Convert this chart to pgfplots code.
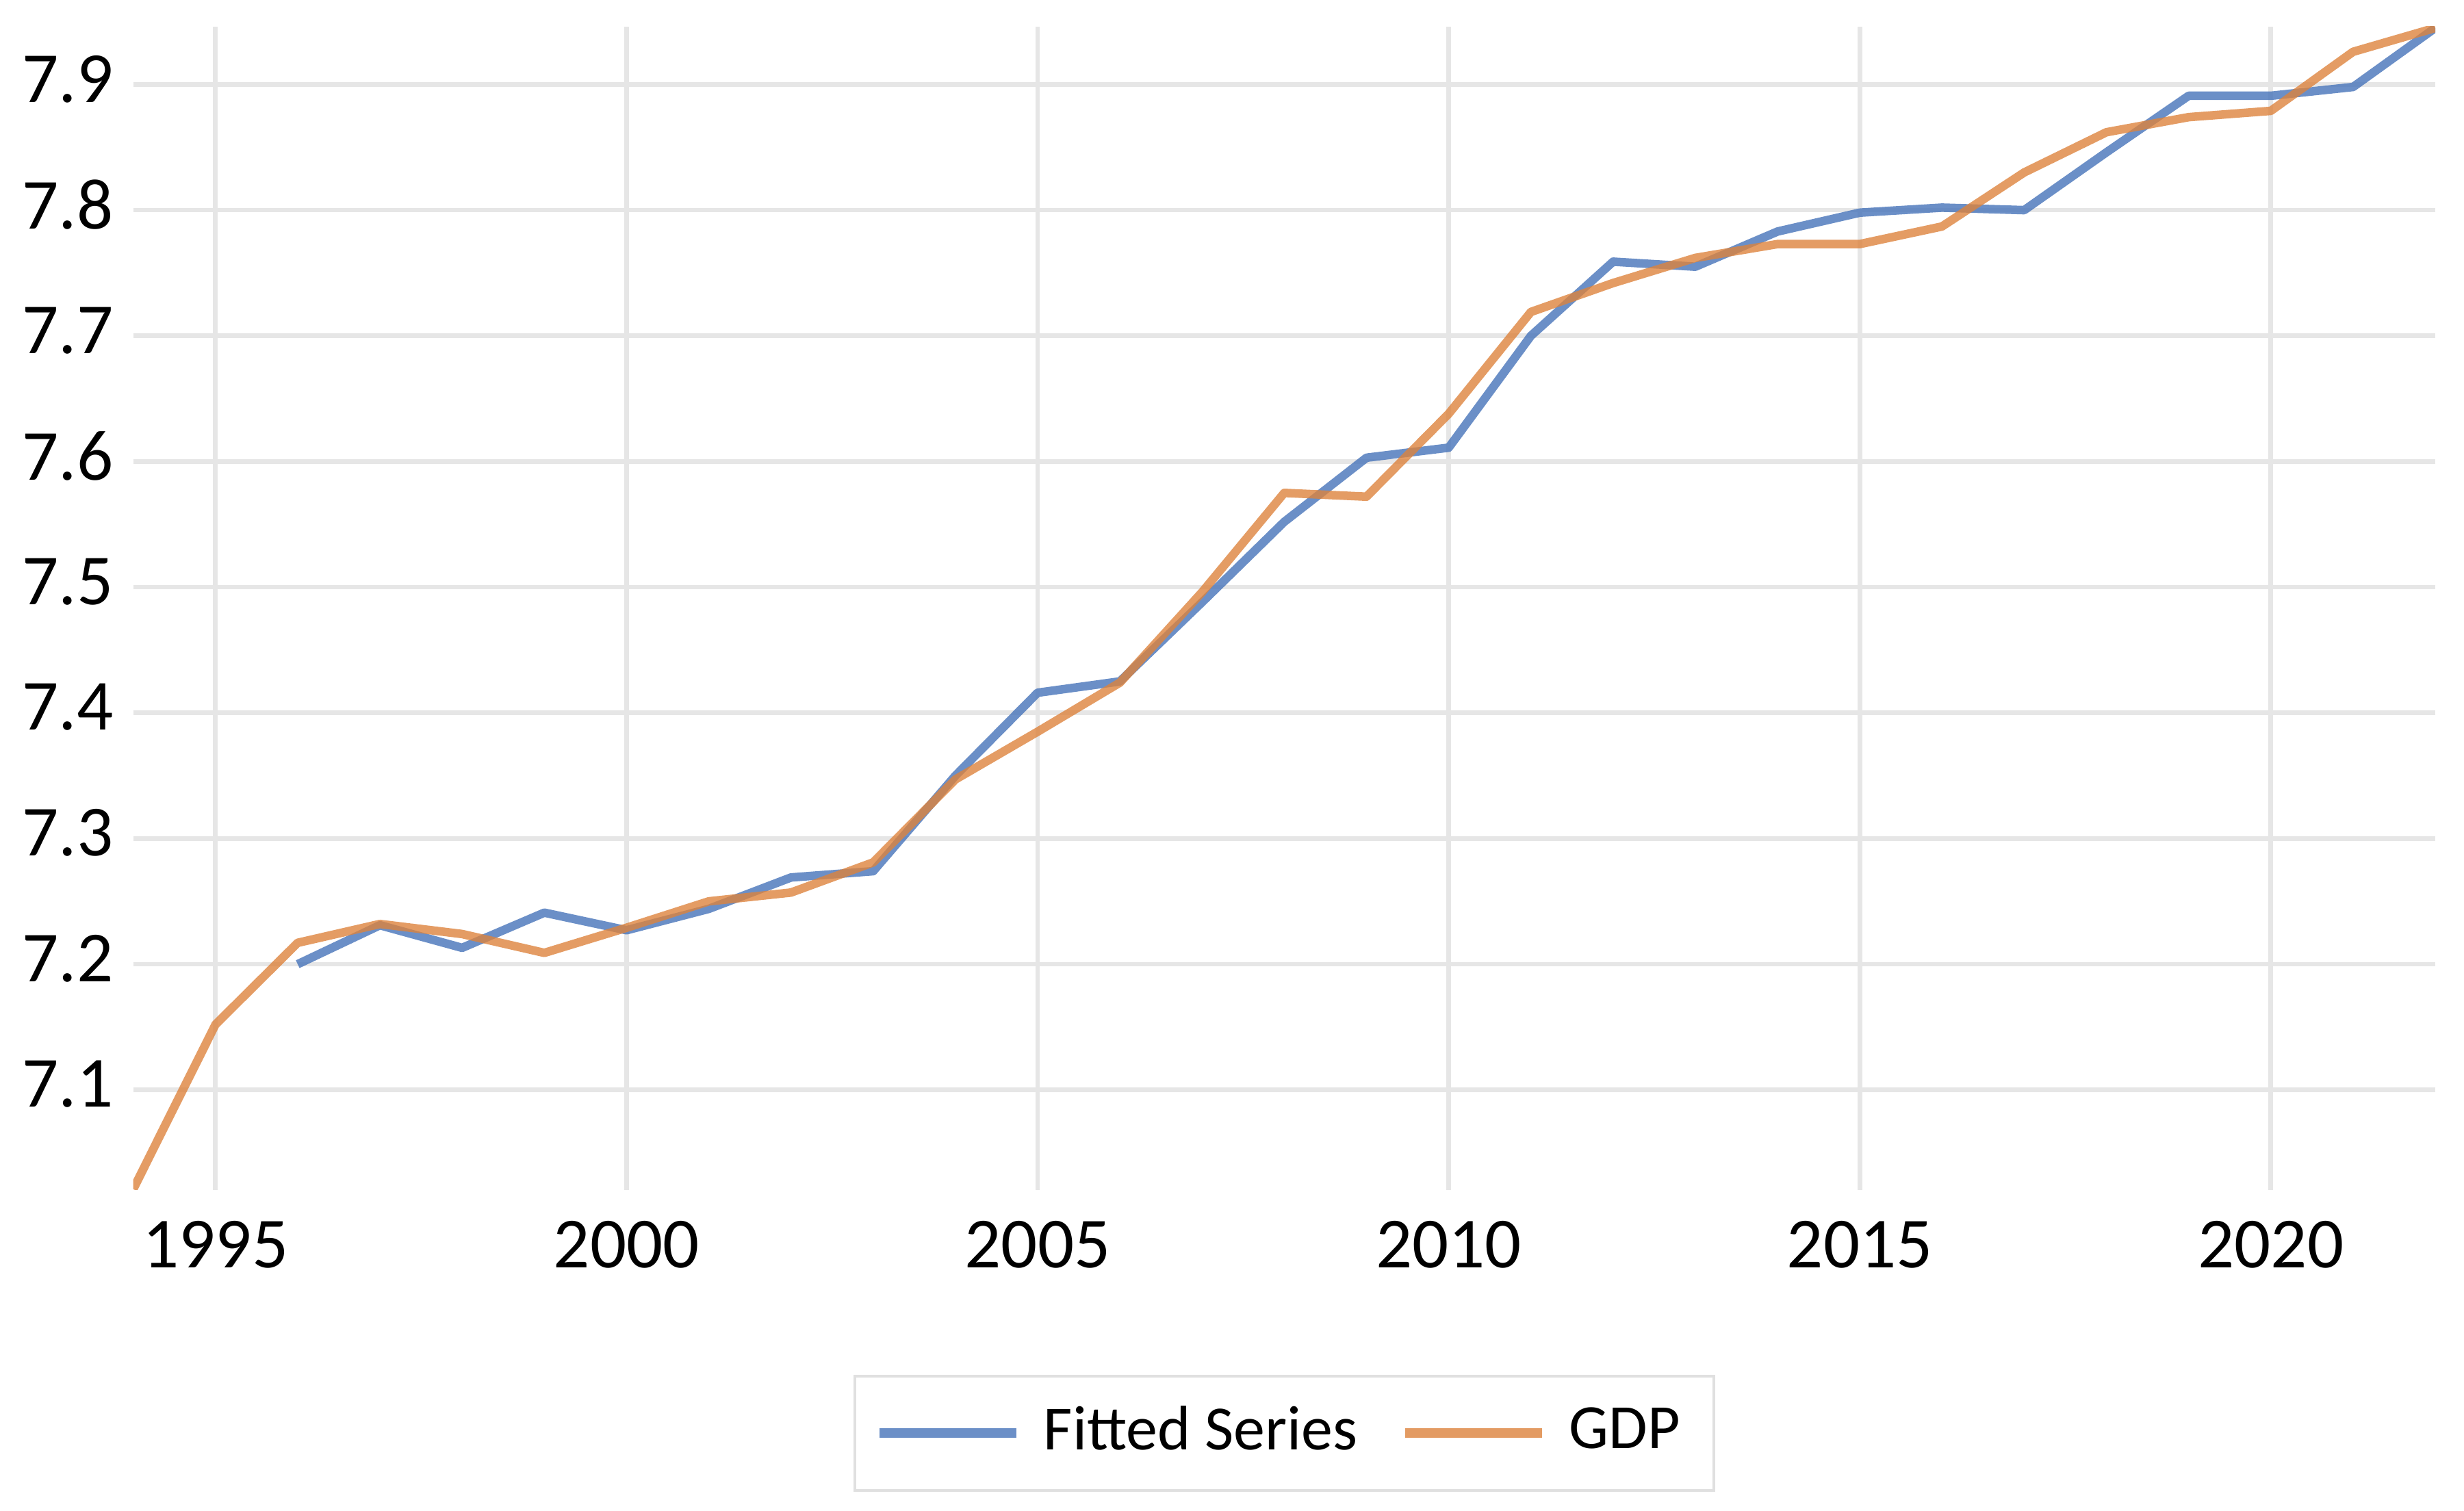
\documentclass[border=0pt]{standalone}
\usepackage{pgfplots}
\pgfplotsset{compat=1.18}
\usepackage{fontspec}
\setmainfont{Carlito}

\definecolor{fitblue}{RGB}{70,115,185}
\definecolor{gdporange}{RGB}{221,131,61}
\definecolor{gridgray}{RGB}{230,230,230}
\definecolor{legendgray}{RGB}{224,224,224}

\begin{document}
\begin{tikzpicture}
\begin{axis}[
    name=ax,
    scale only axis,
    width=336.33pt, height=169.96pt,
    xmin=1994, xmax=2022,
    ymin=7.0205, ymax=7.946,
    xtick={1995,2000,...,2020},
    ytick={7.1,7.2,...,7.95},
    grid=major,
    major grid style={draw=gridgray, line width=0.67pt},
    axis line style={draw=none},
    major tick length=0pt,
    /pgf/number format/assume math mode=true,
    ticklabel style={font=\fontsize{10.5}{12}\selectfont},
    xticklabel style={/pgf/number format/set thousands separator={}, yshift=-1pt},
    yticklabel style={/pgf/number format/fixed, /pgf/number format/fixed zerofill,
        /pgf/number format/precision=1, xshift=0.6pt, yshift=0.8pt},
    legend columns=2,
    legend style={
        at={(0.5,-0.1589)}, anchor=north,
        draw=legendgray, line width=0.4pt,
        inner xsep=2.9pt, inner ysep=2.4pt,
        font=\fontsize{9.2}{11}\selectfont,
        /tikz/every odd column/.append style={column sep=1.3pt},
        /tikz/every even column/.append style={column sep=4.2pt},
    },
    legend image code/.code={
        \draw[#1, line width=1.4pt] (0pt,0pt) -- (20pt,0pt);
    },
]
% fitted series
\addplot[color=fitblue, line width=1.25pt, opacity=0.8, line join=round] coordinates {
    (1996,7.200) (1997,7.231) (1998,7.213) (1999,7.241) (2000,7.227)
    (2001,7.244) (2002,7.269) (2003,7.274) (2004,7.350) (2005,7.416)
    (2006,7.425) (2007,7.488) (2008,7.552) (2009,7.603) (2010,7.611)
    (2011,7.700) (2012,7.759) (2013,7.755) (2014,7.783) (2015,7.798)
    (2016,7.802) (2017,7.800) (2018,7.846) (2019,7.891) (2020,7.891)
    (2021,7.898) (2022,7.945)
};
\addlegendentry{Fitted Series}
% gdp
\addplot[color=gdporange, line width=1.25pt, opacity=0.8, line join=round] coordinates {
    (1994,7.021) (1995,7.152) (1996,7.217) (1997,7.232) (1998,7.224)
    (1999,7.209) (2000,7.229) (2001,7.250) (2002,7.257) (2003,7.281)
    (2004,7.347) (2005,7.385) (2006,7.424) (2007,7.496) (2008,7.575)
    (2009,7.572) (2010,7.638) (2011,7.719) (2012,7.742) (2013,7.762)
    (2014,7.773) (2015,7.773) (2016,7.787) (2017,7.830) (2018,7.862)
    (2019,7.874) (2020,7.879) (2021,7.926) (2022,7.945)
};
\addlegendentry{GDP}
\end{axis}
\pgfresetboundingbox
\path ([xshift=-19.47pt,yshift=-46.94pt]ax.south west) rectangle ([xshift=4.2pt,yshift=3.9pt]ax.north east);
\end{tikzpicture}
\end{document}
